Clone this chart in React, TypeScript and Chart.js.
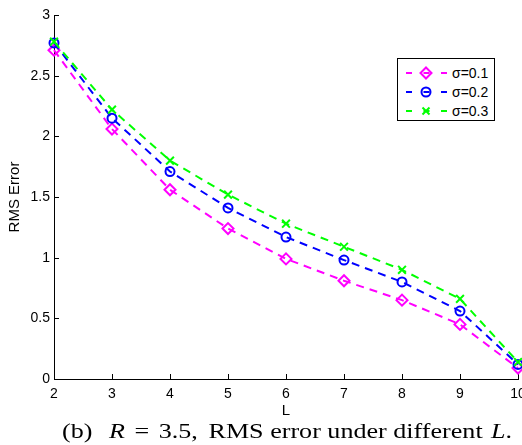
import React, { useEffect, useLayoutEffect, useRef } from "react";
import { Chart, registerables } from "chart.js";

Chart.register(...registerables);

// ---- data ----
const L_VALUES = [2, 3, 4, 5, 6, 7, 8, 9, 10];
const SIGMA_01 = [2.71, 2.06, 1.56, 1.24, 0.99, 0.81, 0.65, 0.45, 0.09];
const SIGMA_02 = [2.77, 2.15, 1.71, 1.41, 1.17, 0.98, 0.80, 0.56, 0.12];
const SIGMA_03 = [2.78, 2.22, 1.80, 1.52, 1.28, 1.09, 0.90, 0.66, 0.14];
const SERIES_LABELS = ["σ=0.1", "σ=0.2", "σ=0.3"];
const X_TICKS = [2, 3, 4, 5, 6, 7, 8, 9, 10];
const Y_TICKS = [0, 0.5, 1, 1.5, 2, 2.5, 3];
const X_TITLE = "L";
const Y_TITLE = "RMS Error";

const MAGENTA = "#ff00ff";
const BLUE = "#0000ff";
const GREEN = "#00ff00";

const SANS = "'Liberation Sans', Arial, Helvetica, sans-serif";

const innerTicks = {
  id: "innerTicks",
  beforeDatasetsDraw(chart: any) {
    const { ctx, chartArea } = chart;
    const xs = chart.scales.x;
    const ys = chart.scales.y;
    ctx.save();
    ctx.strokeStyle = "#000";
    ctx.lineWidth = 1;
    xs.ticks.forEach((t: any) => {
      const px = Math.round(xs.getPixelForValue(t.value)) + 0.5;
      ctx.beginPath();
      ctx.moveTo(px, chartArea.bottom);
      ctx.lineTo(px, chartArea.bottom - 5);
      ctx.stroke();
    });
    ys.ticks.forEach((t: any) => {
      const py = Math.round(ys.getPixelForValue(t.value)) + 0.5;
      ctx.beginPath();
      ctx.moveTo(chartArea.left, py);
      ctx.lineTo(chartArea.left + 5, py);
      ctx.stroke();
    });
    ctx.restore();
  },
};

function makeSet(label: string, values: number[], color: string, style: string, radius: number, order: number) {
  return {
    label,
    data: L_VALUES.map((x, i) => ({ x, y: values[i] })),
    borderColor: color,
    backgroundColor: "rgba(0,0,0,0)",
    borderWidth: 2,
    borderDash: [8, 6],
    pointStyle: style,
    pointRadius: radius,
    pointBorderColor: color,
    pointBackgroundColor: "rgba(0,0,0,0)",
    pointBorderWidth: 2,
    tension: 0,
    clip: false,
    order,
  };
}

function LegendMarker({ kind, color }: { kind: string; color: string }) {
  const cx = 20;
  const cy = 6;
  let marker: any = null;
  if (kind === "diamond") {
    marker = (
      <polygon
        points={`${cx},${cy - 5.5} ${cx + 5.5},${cy} ${cx},${cy + 5.5} ${cx - 5.5},${cy}`}
        fill="none"
        stroke={color}
        strokeWidth={2}
      />
    );
  } else if (kind === "circle") {
    marker = <circle cx={cx} cy={cy} r={4.5} fill="none" stroke={color} strokeWidth={2} />;
  } else {
    marker = (
      <g stroke={color} strokeWidth={2}>
        <line x1={cx - 3.5} y1={cy - 3.5} x2={cx + 3.5} y2={cy + 3.5} />
        <line x1={cx - 3.5} y1={cy + 3.5} x2={cx + 3.5} y2={cy - 3.5} />
      </g>
    );
  }
  return (
    <svg width={41} height={12} style={{ position: "absolute", left: 0, top: 0, overflow: "visible" }}>
      <line x1={0} y1={cy} x2={41} y2={cy} stroke={color} strokeWidth={2} strokeDasharray="6,11.5" />
      {marker}
    </svg>
  );
}

export default function App() {
  const canvasRef = useRef<HTMLCanvasElement | null>(null);
  const captionRef = useRef<HTMLDivElement | null>(null);

  useLayoutEffect(() => {
    const el = captionRef.current;
    if (!el) return;
    el.style.transform = "none";
    const w = el.getBoundingClientRect().width;
    if (w > 0) el.style.transform = `scaleX(${450 / w})`;
  }, []);

  useEffect(() => {
    const canvas = canvasRef.current;
    if (!canvas) return;
    const chart = new Chart(canvas, {
      type: "line",
      data: {
        datasets: [
          makeSet(SERIES_LABELS[0], SIGMA_01, MAGENTA, "rectRot", 5.5, 2),
          makeSet(SERIES_LABELS[1], SIGMA_02, BLUE, "circle", 4.5, 1),
          makeSet(SERIES_LABELS[2], SIGMA_03, GREEN, "crossRot", 5.5, 0),
        ] as any,
      },
      options: {
        responsive: false,
        maintainAspectRatio: false,
        animation: false,
        layout: { autoPadding: false, padding: { top: 15, right: 4, left: 0, bottom: 0 } },
        plugins: {
          legend: { display: false },
          tooltip: { enabled: false },
        },
        scales: {
          x: {
            type: "linear",
            min: 2,
            max: 10,
            afterBuildTicks: (s: any) => {
              s.ticks = X_TICKS.map((v) => ({ value: v }));
            },
            afterFit: (s: any) => {
              s.height = 41;
              s.paddingLeft = 0;
              s.paddingRight = 0;
            },
            grid: { display: false, drawTicks: false },
            border: { display: true, color: "#000", width: 1 },
            ticks: {
              color: "#000",
              font: { family: SANS, size: 14 },
              padding: 7,
              maxRotation: 0,
              autoSkip: false,
              callback: (v: any) => String(v),
            },
            title: {
              display: true,
              text: X_TITLE,
              color: "#000",
              font: { family: SANS, size: 15 },
              padding: { top: 0, bottom: 0 },
            },
          },
          y: {
            type: "linear",
            min: 0,
            max: 3,
            afterBuildTicks: (s: any) => {
              s.ticks = Y_TICKS.map((v) => ({ value: v }));
            },
            afterFit: (s: any) => {
              s.width = 54;
              s.paddingTop = 0;
              s.paddingBottom = 0;
            },
            grid: { display: false, drawTicks: false },
            border: { display: true, color: "#000", width: 1 },
            ticks: {
              color: "#000",
              font: { family: SANS, size: 14 },
              padding: 4,
              autoSkip: false,
              callback: (v: any) => String(v),
            },
            title: {
              display: true,
              text: Y_TITLE,
              color: "#000",
              font: { family: SANS, size: 15 },
              padding: { top: 6, bottom: 0 },
            },
          },
        },
      } as any,
      plugins: [innerTicks],
    });
    return () => chart.destroy();
  }, []);

  const legendRows = [
    { label: SERIES_LABELS[0], color: MAGENTA, kind: "diamond" },
    { label: SERIES_LABELS[1], color: BLUE, kind: "circle" },
    { label: SERIES_LABELS[2], color: GREEN, kind: "cross" },
  ];

  return (
    <div style={{ position: "absolute", left: 0, top: 0, width: 522, height: 445, background: "#fff", overflow: "hidden" }}>
      <canvas ref={canvasRef} width={522} height={420} style={{ position: "absolute", left: 0, top: 0, width: 522, height: 420 }} />
      <div
        style={{
          position: "absolute",
          left: 397,
          top: 58,
          width: 96,
          height: 61,
          border: "1px solid #000",
          background: "#fff",
        }}
      >
        {legendRows.map((r, i) => (
          <div key={r.label} style={{ position: "absolute", left: 8, top: 8 + i * 19.2, width: 86, height: 12 }}>
            <LegendMarker kind={r.kind} color={r.color} />
            <span
              style={{
                position: "absolute",
                left: 46,
                top: -3,
                font: `14px ${SANS}`,
                lineHeight: "18px",
                color: "#000",
                whiteSpace: "nowrap",
              }}
            >
              {r.label}
            </span>
          </div>
        ))}
      </div>
      <div
        ref={captionRef}
        style={{
          position: "absolute",
          left: 62,
          top: 420,
          whiteSpace: "nowrap",
          font: "22px 'Liberation Serif', 'Times New Roman', serif",
          lineHeight: "22px",
          color: "#000",
          transformOrigin: "0 0",
          display: "inline-block",
        }}
      >
        <span>(b)</span>
        <span style={{ marginLeft: 14, fontStyle: "italic" }}>R</span>
        <span style={{ marginLeft: 8 }}>=</span>
        <span style={{ marginLeft: 8 }}>3.5,</span>
        <span style={{ marginLeft: 9 }}>RMS error under different</span>
        <span style={{ marginLeft: 7, fontStyle: "italic" }}>L</span>
        <span>.</span>
      </div>
    </div>
  );
}
